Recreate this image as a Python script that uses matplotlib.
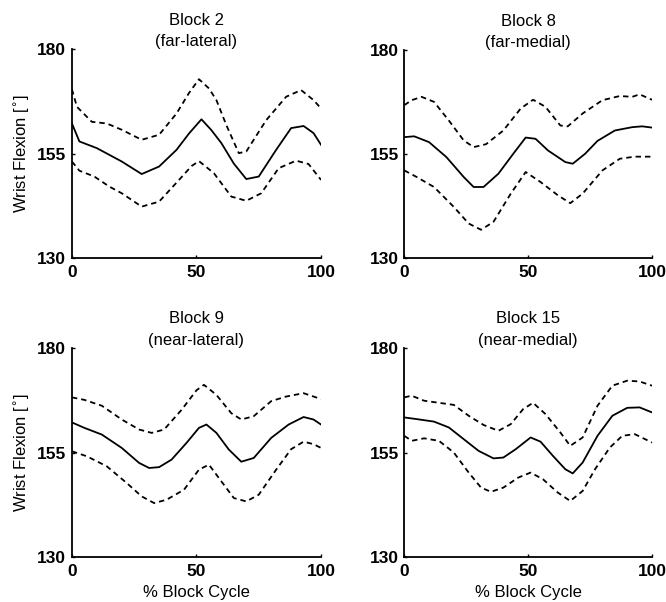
import matplotlib
matplotlib.use("Agg")
import matplotlib.pyplot as plt

plt.rcParams["font.family"] = ["Liberation Sans", "DejaVu Sans"]

# Block 2 (far-lateral)
b2_mean_x = [0, 3, 10, 20, 28, 35, 42, 47, 52, 56, 60, 65, 70, 75, 82, 88, 93, 97, 100]
b2_mean_y = [162.2, 157.9, 156.3, 153.1, 150.1, 151.9, 155.9, 159.8, 163.2, 160.6, 157.5, 152.6, 148.9, 149.5, 155.9, 161.1, 161.6, 159.9, 157.1]
b2_up_x = [0, 2, 8, 14, 20, 28, 35, 42, 47, 51, 55, 58, 62, 67, 70, 78, 86, 92, 97, 100]
b2_up_y = [170.4, 166.2, 162.6, 162.2, 160.7, 158.3, 159.5, 164.6, 169.5, 172.8, 170.6, 167.8, 161.8, 155.1, 155.5, 163.0, 168.6, 170.2, 167.8, 165.8]
b2_lo_x = [0, 3, 9, 15, 20, 28, 35, 43, 48, 51, 57, 64, 70, 76, 83, 90, 95, 100]
b2_lo_y = [153.1, 150.9, 149.5, 147.1, 145.5, 142.3, 143.5, 148.7, 152.0, 153.2, 150.3, 144.7, 143.7, 145.5, 151.5, 153.3, 152.5, 148.7]

# Block 8 (far-medial)
b8_mean_x = [0, 4, 10, 17, 24, 28, 32, 38, 44, 49, 53, 58, 65, 68, 73, 78, 85, 92, 96, 100]
b8_mean_y = [159.1, 159.3, 157.9, 154.3, 149.5, 147.1, 147.1, 150.3, 155.1, 159.0, 158.7, 155.9, 153.1, 152.7, 155.1, 158.2, 160.7, 161.5, 161.7, 161.4]
b8_up_x = [0, 3, 7, 12, 18, 24, 28, 33, 40, 47, 52, 57, 63, 66, 72, 80, 87, 92, 95, 100]
b8_up_y = [166.8, 168.0, 168.8, 167.6, 163.1, 158.3, 156.7, 157.4, 160.7, 166.0, 168.1, 166.4, 161.9, 161.7, 164.8, 168.0, 169.0, 168.8, 169.4, 168.1]
b8_lo_x = [0, 5, 12, 20, 26, 31, 36, 43, 49, 55, 62, 67, 72, 80, 87, 93, 100]
b8_lo_y = [151.1, 149.5, 147.1, 142.3, 138.3, 136.8, 138.7, 145.5, 150.7, 148.3, 145.1, 143.2, 145.5, 151.1, 153.9, 154.4, 154.4]

# Block 9 (near-lateral)
b9_mean_x = [0, 5, 12, 20, 27, 31, 35, 40, 46, 51, 54, 58, 63, 68, 73, 80, 87, 93, 97, 100]
b9_mean_y = [162.2, 160.9, 159.3, 156.1, 152.5, 151.3, 151.5, 153.3, 157.3, 160.9, 161.7, 159.7, 155.7, 152.8, 153.7, 158.5, 161.7, 163.5, 162.9, 161.7]
b9_up_x = [0, 5, 12, 20, 27, 32, 37, 44, 50, 53, 58, 64, 68, 73, 80, 86, 93, 100]
b9_up_y = [168.2, 167.6, 166.2, 162.9, 160.5, 159.7, 160.5, 165.2, 169.9, 171.2, 168.8, 164.4, 162.9, 163.7, 167.3, 168.4, 169.2, 167.8]
b9_lo_x = [0, 6, 14, 22, 28, 33, 38, 45, 51, 55, 60, 65, 70, 75, 82, 88, 93, 97, 100]
b9_lo_y = [155.3, 154.1, 151.7, 147.7, 144.5, 142.9, 143.7, 146.1, 150.9, 152.1, 148.1, 144.1, 143.3, 144.9, 150.9, 155.8, 157.6, 157.0, 156.1]

# Block 15 (near-medial)
b15_mean_x = [0, 5, 12, 18, 24, 30, 36, 40, 45, 51, 55, 60, 65, 68, 72, 78, 84, 90, 95, 100]
b15_mean_y = [163.4, 163.0, 162.4, 161.0, 158.2, 155.4, 153.6, 153.8, 155.8, 158.6, 157.6, 154.2, 151.0, 150.0, 152.6, 159.0, 163.8, 165.7, 165.8, 164.6]
b15_up_x = [0, 3, 8, 14, 20, 26, 32, 38, 43, 48, 52, 57, 63, 67, 72, 78, 84, 90, 95, 100]
b15_up_y = [168.2, 168.6, 167.4, 166.9, 166.4, 163.8, 161.6, 160.2, 161.8, 165.4, 166.9, 164.2, 159.8, 156.6, 158.6, 166.2, 171.0, 172.2, 172.0, 171.0]
b15_lo_x = [0, 3, 8, 14, 20, 26, 31, 35, 40, 46, 51, 56, 62, 67, 72, 77, 83, 88, 93, 100]
b15_lo_y = [159.0, 157.8, 158.4, 157.8, 155.0, 150.2, 146.6, 145.6, 146.6, 149.0, 150.2, 148.6, 145.4, 143.4, 145.8, 151.0, 156.2, 159.0, 159.4, 157.4]

titles = ["Block 2\n(far-lateral)", "Block 8\n(far-medial)",
          "Block 9\n(near-lateral)", "Block 15\n(near-medial)"]
curves = [
    (b2_mean_x, b2_mean_y, b2_up_x, b2_up_y, b2_lo_x, b2_lo_y),
    (b8_mean_x, b8_mean_y, b8_up_x, b8_up_y, b8_lo_x, b8_lo_y),
    (b9_mean_x, b9_mean_y, b9_up_x, b9_up_y, b9_lo_x, b9_lo_y),
    (b15_mean_x, b15_mean_y, b15_up_x, b15_up_y, b15_lo_x, b15_lo_y),
]
x_ticks = [0, 50, 100]
y_ticks = [130, 155, 180]

fig = plt.figure(figsize=(6.66, 6.02), dpi=100)
# left, bottom, width, height (figure fractions)
boxes = [
    [0.108, 0.5714, 0.374, 0.347],
    [0.607, 0.5714, 0.372, 0.345],
    [0.108, 0.0748, 0.374, 0.347],
    [0.607, 0.0748, 0.372, 0.347],
]

for i, (box, title, c) in enumerate(zip(boxes, titles, curves)):
    ax = fig.add_axes(box)
    mx, my, ux, uy, lx, ly = c
    ax.plot(mx, my, color="black", lw=1.3)
    ax.plot(ux, uy, color="black", lw=1.3, ls=(0, (3, 2.2)))
    ax.plot(lx, ly, color="black", lw=1.3, ls=(0, (3, 2.2)))
    ax.set_xlim(0, 100)
    ax.set_ylim(130, 180)
    ax.set_xticks(x_ticks)
    ax.set_yticks(y_ticks)
    ax.spines["top"].set_visible(False)
    ax.spines["right"].set_visible(False)
    ax.spines["left"].set_linewidth(1.3)
    ax.spines["bottom"].set_linewidth(1.3)
    ax.tick_params(direction="in", length=2.5, width=1, labelsize=12.5)
    ax.tick_params(axis="x", pad=5)
    ax.tick_params(axis="y", pad=4)
    for lab in ax.get_xticklabels() + ax.get_yticklabels():
        lab.set_fontweight("bold")
    ax.set_title(title, fontsize=12, linespacing=1.55, pad=2)
    if i % 2 == 0:
        ax.set_ylabel("Wrist Flexion [$^{\\circ}$]", fontsize=12, labelpad=4)
    if i >= 2:
        ax.set_xlabel("% Block Cycle", fontsize=12, labelpad=4.5)

fig.savefig("out.png", dpi=100)
